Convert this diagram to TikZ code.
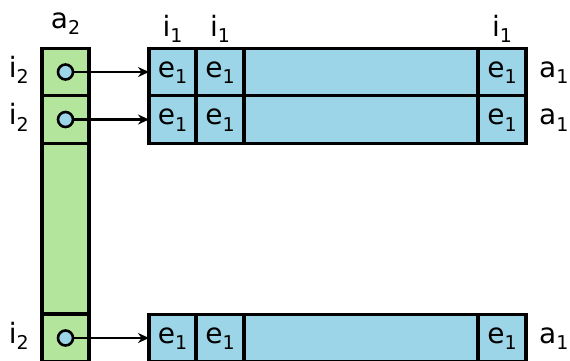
\documentclass[tikz,border=0pt]{standalone}
\usepackage{fontspec}
\setmainfont{DejaVu Sans}
\usepackage{tikz}
\usetikzlibrary{positioning, arrows.meta}
\definecolor{cellgreen}{RGB}{179,230,156}
\definecolor{cellblue}{RGB}{155,213,231}
\newcommand{\subs}[2]{#1\raisebox{-6.5pt}{\fontsize{19}{19}\selectfont #2}}
\tikzset{
	bigtext/.style={font=\fontsize{28}{30}\selectfont, text height=16pt, text depth=6pt, inner sep=0pt}
}
\tikzset{
	gcell/.style={draw, line width=3.2pt, fill=cellgreen, minimum width=47pt, inner sep=0pt, outer sep=0pt},
	bcell/.style={bigtext, draw, line width=3.2pt, fill=cellblue, minimum height=47.5pt, outer sep=0pt},
	ptr/.style={circle, draw, line width=2.6pt, fill=cellblue, minimum size=15pt, inner sep=0pt}
}

\begin{document}
\begin{tikzpicture}[x=1pt, y=-1pt]
      \useasboundingbox (0,0) rectangle (570,360);
      % column of pointers
      \node[gcell, minimum height=171pt] (gm) at (65.5,228.5) {};
      \foreach \r/\y in {1/72, 2/119.5, 3/338} {
        \node[gcell, minimum height=47.5pt] (g\r) at (65.5,\y) {};
        \node[ptr] (p\r) at (65.5,\y) {};
        \node[bigtext, left=13pt of g\r] (li\r) {\subs{i}{2}};
        % row of elements
        \node[bcell, minimum width=47pt] (b\r1) at (172.5,\y) {\subs{e}{1}};
        \node[bcell, minimum width=48pt] (b\r2) at (220,\y) {\subs{e}{1}};
        \node[bcell, minimum width=234pt] (b\r3) at (361,\y) {};
        \node[bcell, minimum width=48pt] (b\r4) at (502,\y) {\subs{e}{1}};
        \node[bigtext, right=13pt of b\r4] (la\r) {\subs{a}{1}};
        \draw[line width=2.2pt, -{Stealth[length=11pt, width=10pt]}] (p\r) -- (b\r1);
      }
      \node[bigtext, above=14pt of g1] (ltop) {\subs{a}{2}};
      \foreach \c in {1,2,4}
        \node[bigtext, above=6pt of b1\c] (lc\c) {\subs{i}{1}};
    \end{tikzpicture}
\end{document}
